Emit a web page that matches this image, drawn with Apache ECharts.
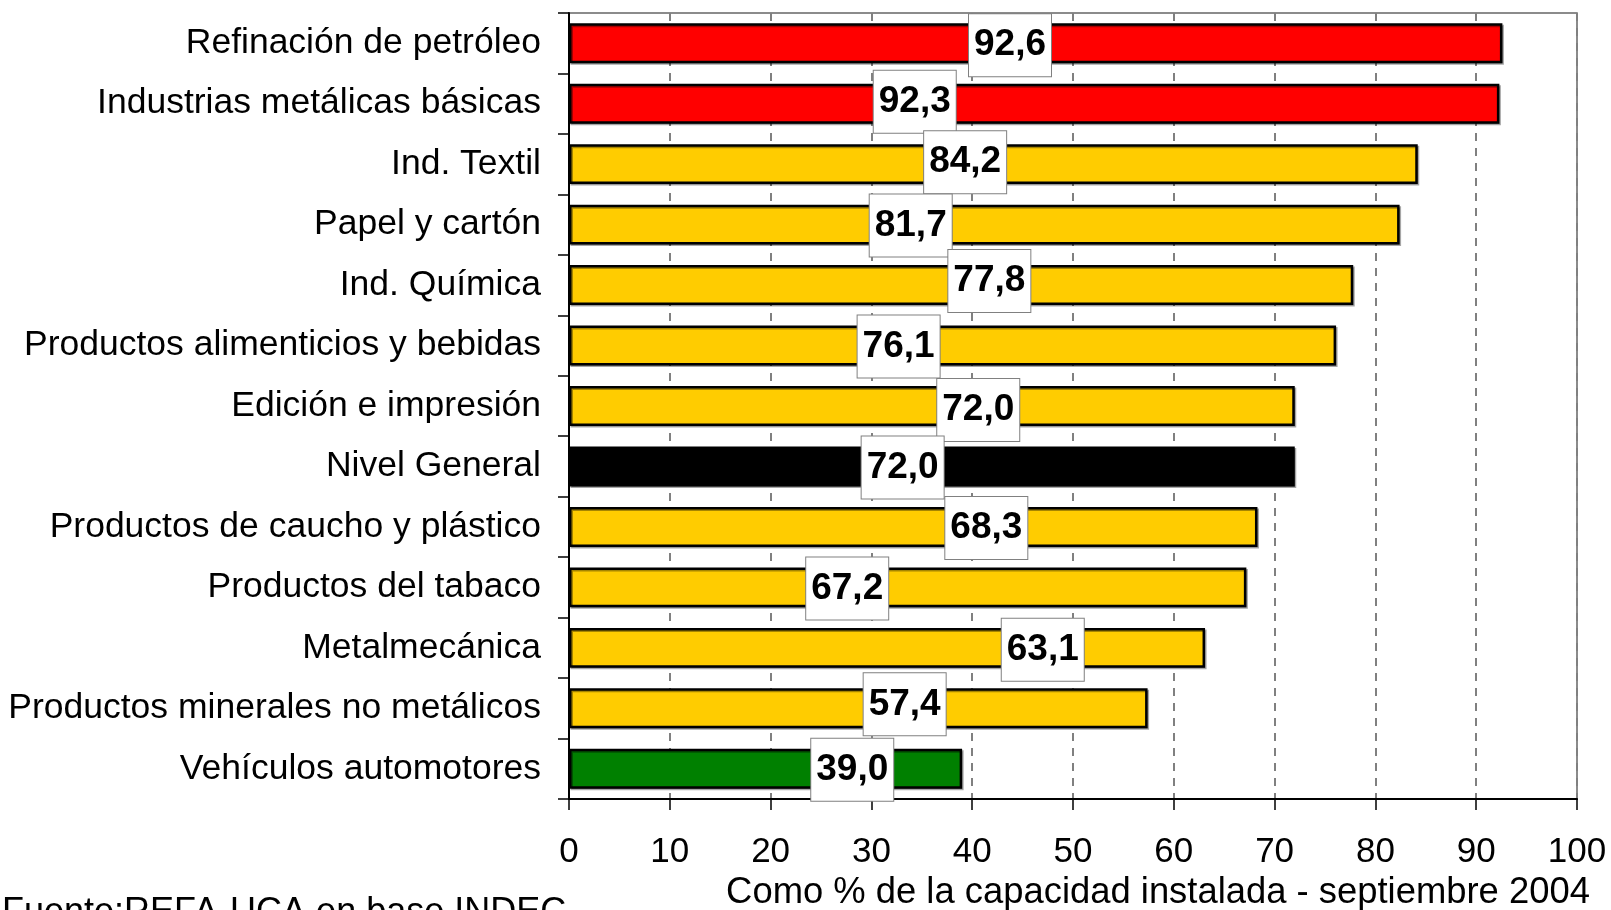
<!DOCTYPE html>
<html>
<head>
<meta charset="utf-8">
<script src="https://cdn.jsdelivr.net/npm/echarts@6/dist/echarts.min.js"></script>
<style>
  html, body { margin: 0; padding: 0; background: #fff; }
  #chart { width: 1611px; height: 910px; }
</style>
</head>
<body>
<div id="chart"></div>
<script>
// ---- data ----
const categorias = [
  'Refinación de petróleo',
  'Industrias metálicas básicas',
  'Ind. Textil',
  'Papel y cartón',
  'Ind. Química',
  'Productos alimenticios y bebidas',
  'Edición e impresión',
  'Nivel General',
  'Productos de caucho y plástico',
  'Productos del tabaco',
  'Metalmecánica',
  'Productos minerales no metálicos',
  'Vehículos automotores'
];
// bar lengths as drawn
const valores = [92.6, 92.3, 84.2, 82.4, 77.8, 76.1, 72.0, 72.0, 68.3, 67.2, 63.1, 57.4, 39.0];
// printed data labels
const etiquetas = ['92,6', '92,3', '84,2', '81,7', '77,8', '76,1', '72,0', '72,0', '68,3', '67,2', '63,1', '57,4', '39,0'];
// group of each sector
const grupos = ['alto', 'alto', 'medio', 'medio', 'medio', 'medio', 'medio', 'general', 'medio', 'medio', 'medio', 'medio', 'bajo'];
const ticksX = [0, 10, 20, 30, 40, 50, 60, 70, 80, 90, 100];
const tituloX = 'Como % de la capacidad instalada - septiembre 2004';
const fuente = 'Fuente:REFA-UCA en base INDEC';

// ---- style / layout ----
const FONT = "'Liberation Sans', Arial, sans-serif";
const colores = { alto: '#FF0000', medio: '#FFCC00', general: '#000000', bajo: '#008000' };
// where each label box is centred (in axis units) and small vertical shifts (px)
const labelAnchor = [43.75, 34.3, 39.3, 33.9, 41.7, 32.7, 40.6, 33.1, 41.4, 27.6, 47.0, 33.3, 28.1];
const labelDy = [2, -2, -2, 1, -4, 1, 4, 1, 1, 1, 2, -4, 1];

const chart = echarts.init(document.getElementById('chart'), null, { renderer: 'canvas' });

const seriesData = valores.map((v, i) => ({
  value: v,
  itemStyle: { color: colores[grupos[i]] },
  label: {
    position: [(labelAnchor[i] / v * 100) + '%', '50%'],
    offset: [0, labelDy[i]]
  }
}));

chart.setOption({
  animation: false,
  backgroundColor: '#ffffff',
  grid: {
    left: 569, right: 34, top: 13, bottom: 111,
    show: true, borderColor: '#666666', borderWidth: 1.5, backgroundColor: 'transparent'
  },
  xAxis: {
    type: 'value',
    min: 0, max: 100, interval: 10,
    axisLine: { show: true, onZero: false, lineStyle: { color: '#000', width: 2 } },
    axisTick: { show: true, length: 11, inside: false, lineStyle: { color: '#000', width: 1.5 } },
    axisLabel: {
      margin: 36, color: '#000', fontFamily: FONT, fontSize: 35,
      formatter: (val) => ticksX.includes(val) ? String(val) : ''
    },
    splitLine: { show: true, lineStyle: { color: '#808080', width: 2, type: [8, 7] } }
  },
  yAxis: {
    type: 'category',
    inverse: true,
    data: categorias,
    axisLine: { show: true, lineStyle: { color: '#000', width: 2 } },
    axisTick: { show: true, length: 11, inside: false, lineStyle: { color: '#000', width: 1.5 } },
    axisLabel: { margin: 28, color: '#000', fontFamily: FONT, fontSize: 35.5 },
    splitLine: { show: false }
  },
  series: [{
    type: 'bar',
    data: seriesData,
    barCategoryGap: '34%',
    itemStyle: {
      borderColor: '#000', borderWidth: 2.5,
      shadowColor: 'rgba(0,0,0,0.35)', shadowOffsetX: 1.5, shadowOffsetY: 1.5, shadowBlur: 0
    },
    label: {
      show: true,
      align: 'center',
      verticalAlign: 'middle',
      formatter: (p) => etiquetas[p.dataIndex],
      color: '#000',
      fontFamily: FONT,
      fontWeight: 'bold',
      fontSize: 37,
      lineHeight: 38,
      width: 72,
      backgroundColor: '#ffffff',
      borderColor: '#808080',
      borderWidth: 1,
      padding: [12, 5, 12, 5]
    }
  }],
  graphic: [
    {
      type: 'text', x: 1158, y: 893,
      style: { text: tituloX, fill: '#000', font: '36.4px ' + FONT, textAlign: 'center', textVerticalAlign: 'middle' }
    },
    {
      type: 'text', x: 2, y: 895,
      style: { text: fuente, fill: '#000', font: '36px ' + FONT, textAlign: 'left', textVerticalAlign: 'top' }
    }
  ]
});
</script>
</body>
</html>
